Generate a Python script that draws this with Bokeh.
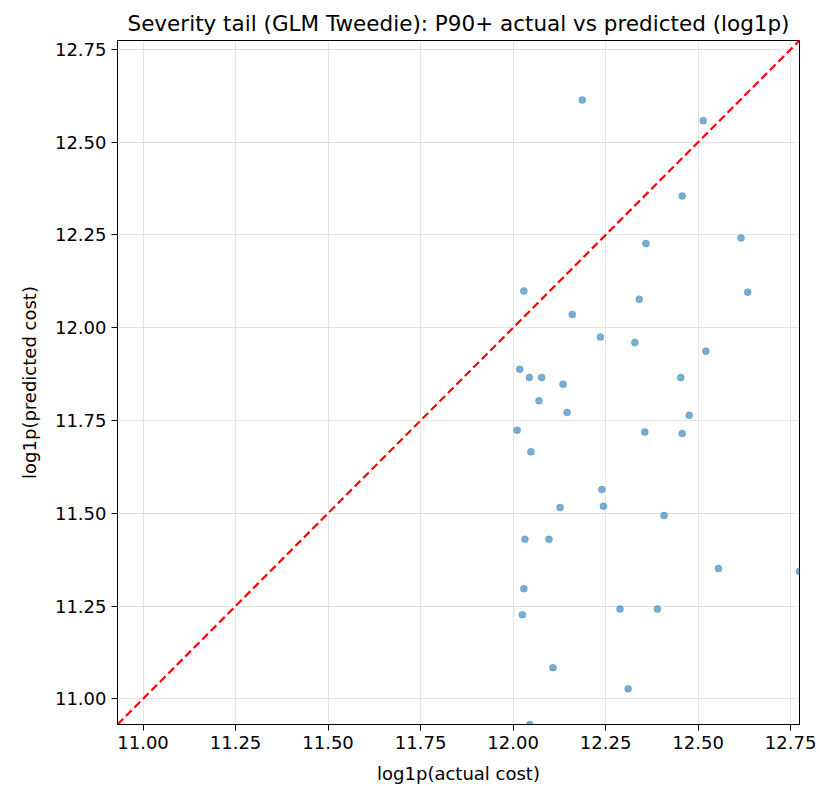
from bokeh.plotting import figure
from bokeh.models import Range1d, FixedTicker, NumeralTickFormatter
from bokeh.embed import file_html
from bokeh.resources import INLINE

# log1p(actual cost)
actual = [12.187, 12.514, 12.457, 12.359, 12.616, 12.029, 12.341, 12.634, 12.160,
          12.236, 12.329, 12.521, 12.018, 12.044, 12.077, 12.453, 12.135, 12.070,
          12.146, 12.476, 12.011, 12.356, 12.457, 12.048, 12.240, 12.127, 12.244,
          12.408, 12.032, 12.097, 12.555, 12.774, 12.029, 12.289, 12.390, 12.025,
          12.108, 12.311, 12.045]
# log1p(predicted cost)
predicted = [12.614, 12.558, 12.355, 12.227, 12.242, 12.099, 12.077, 12.096, 12.036,
             11.975, 11.960, 11.937, 11.888, 11.866, 11.866, 11.866, 11.848, 11.803,
             11.772, 11.764, 11.724, 11.719, 11.715, 11.666, 11.564, 11.516, 11.519,
             11.494, 11.430, 11.430, 11.351, 11.343, 11.297, 11.242, 11.242, 11.227,
             11.084, 11.027, 10.931]
tick_values = [11.00, 11.25, 11.50, 11.75, 12.00, 12.25, 12.50, 12.75]

lo = min(min(actual), min(predicted))
hi = max(max(actual), max(predicted))
diag = [lo, hi]

FONT = "DejaVu Sans"

p = figure(width=820, height=786, output_backend="svg", toolbar_location=None,
           x_range=Range1d(lo, hi), y_range=Range1d(lo, hi),
           min_border_left=117, min_border_right=21, min_border_top=40, min_border_bottom=62,
           title="Severity tail (GLM Tweedie): P90+ actual vs predicted (log1p)")

p.title.align = "center"
p.title.text_font = FONT
p.title.text_font_size = "21.5px"
p.title.text_font_style = "normal"
p.title.text_color = "#000000"
p.title.offset = 6
p.title.standoff = 10

p.scatter(actual, predicted, size=7, fill_color="#1f77b4", fill_alpha=0.6,
          line_color="#1f77b4", line_alpha=0.6, line_width=0.5)
p.line(diag, diag, line_color="#ff0000", line_width=2.2, line_dash="8 4")

for ax in (p.xaxis, p.yaxis):
    ax.ticker = FixedTicker(ticks=tick_values)
    ax.formatter = NumeralTickFormatter(format="0.00")
    ax.major_label_text_font = FONT
    ax.major_label_text_font_size = "18px"
    ax.major_label_text_color = "#000000"
    ax.axis_label_text_font = FONT
    ax.axis_label_text_font_size = "18px"
    ax.axis_label_text_font_style = "normal"
    ax.axis_label_text_color = "#000000"
    ax.axis_line_color = "#000000"
    ax.major_tick_line_color = "#000000"
    ax.major_tick_out = 6
    ax.major_tick_in = 0
    ax.minor_tick_line_color = None
    ax.major_label_standoff = 5

p.xaxis.axis_label_standoff = 11
p.yaxis.axis_label_standoff = 12
p.xaxis.axis_label = "log1p(actual cost)"
p.yaxis.axis_label = "log1p(predicted cost)"

p.outline_line_color = "#000000"
p.outline_line_width = 1
p.outline_line_alpha = 1

p.xgrid.ticker = FixedTicker(ticks=tick_values)
p.ygrid.ticker = FixedTicker(ticks=tick_values)
p.grid.grid_line_color = "#b0b0b0"
p.grid.grid_line_alpha = 0.35
p.grid.grid_line_width = 1

p.background_fill_color = "#ffffff"
p.border_fill_color = "#ffffff"

open("out.html", "w").write(file_html(p, INLINE))
